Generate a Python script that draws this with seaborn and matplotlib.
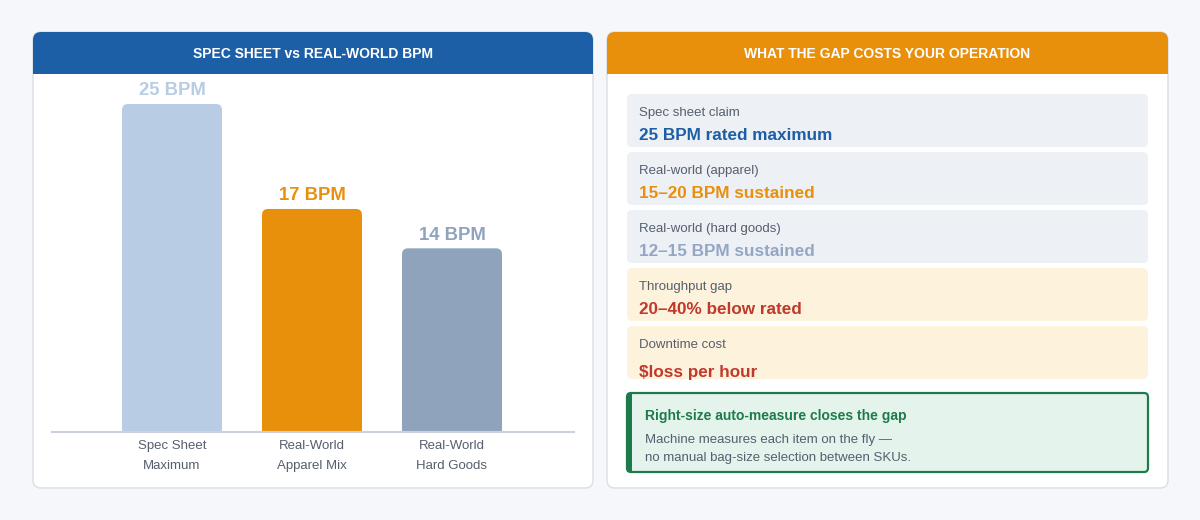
import matplotlib.pyplot as plt
import seaborn as sns
import pandas as pd
from matplotlib.patches import FancyBboxPatch, Rectangle

# Chart data
categories = ['Spec Sheet\nMaximum', 'Real-World\nApparel Mix', 'Real-World\nHard Goods']
bpm = [25, 17, 14]
bar_colors = ['#b8cce4', '#e8900c', '#8fa3bd']

# Right panel cards
card_labels = ['Spec sheet claim', 'Real-world (apparel)', 'Real-world (hard goods)',
               'Throughput gap', 'Downtime cost']
card_values = ['25 BPM rated maximum', '15–20 BPM sustained', '12–15 BPM sustained',
               '20–40% below rated', '$loss per hour']
card_value_colors = ['#1d5fa6', '#e8900c', '#93a7c4', '#c0392b', '#c0392b']
card_bg = ['#edf0f5', '#edf0f5', '#edf0f5', '#fdf2dc', '#fdf2dc']

left_title = 'SPEC SHEET vs REAL-WORLD BPM'
right_title = 'WHAT THE GAP COSTS YOUR OPERATION'
note_title = 'Right-size auto-measure closes the gap'
note_body = ['Machine measures each item on the fly —',
             'no manual bag-size selection between SKUs.']

sns.set_theme(style='white')
plt.rcParams['font.family'] = ['Liberation Sans', 'DejaVu Sans']

W, H = 1200, 520
fig = plt.figure(figsize=(12, 5.2), dpi=100)
fig.patch.set_facecolor('#f5f7fa')

# Background canvas in pixel coordinates
bg = fig.add_axes([0, 0, 1, 1])
bg.set_xlim(0, W)
bg.set_ylim(H, 0)
bg.axis('off')
bg.set_facecolor('none')


def panel(x0, x1, y0, y1, head_color, title):
    bg.add_patch(FancyBboxPatch((x0, y0), x1 - x0, y1 - y0,
                                boxstyle='round,pad=0,rounding_size=8',
                                fc='white', ec='#d9dee7', lw=1))
    bg.add_patch(FancyBboxPatch((x0, y0), x1 - x0, 42,
                                boxstyle='round,pad=0,rounding_size=8',
                                fc=head_color, ec='none'))
    bg.add_patch(Rectangle((x0, y0 + 20), x1 - x0, 22, fc=head_color, ec='none'))
    bg.text((x0 + x1) / 2, y0 + 22, title, color='white', fontsize=10,
            fontweight='bold', ha='center', va='center')


panel(33, 593, 32, 488, '#1d5fa6', left_title)
panel(607, 1168, 32, 488, '#e8900c', right_title)

# Cards on the right
card_top = [94, 152, 210, 268, 326]
for i, (lab, val) in enumerate(zip(card_labels, card_values)):
    y = card_top[i]
    bg.add_patch(FancyBboxPatch((627, y), 521, 53,
                                boxstyle='round,pad=0,rounding_size=5',
                                fc=card_bg[i], ec='none'))
    bg.text(639, y + 19, lab, color='#555f6e', fontsize=9.5, va='center')
    off = 46 if i == 4 else 42
    bg.text(639, y + off, val, color=card_value_colors[i], fontsize=12.3,
            fontweight='bold', va='center')

# Green note box
bg.add_patch(FancyBboxPatch((627, 393), 521, 79,
                            boxstyle='round,pad=0,rounding_size=4',
                            fc='#e4f4ec', ec='#1e7a4a', lw=1.6))
bg.add_patch(Rectangle((627, 393), 5, 79, fc='#1e7a4a', ec='none'))
bg.text(645, 416, note_title, color='#1e7a4a', fontsize=10, fontweight='bold', va='center')
for j, line in enumerate(note_body):
    bg.text(645, 440 + j * 18, line, color='#555f6e', fontsize=9.5, va='center')

# Bar chart axes
ax_l, ax_r, ax_b, ax_t = 52, 574, 432, 80
ax = fig.add_axes([ax_l / W, (H - ax_b) / H, (ax_r - ax_l) / W, (ax_b - ax_t) / H])
ax.set_facecolor('none')

df = pd.DataFrame({'category': categories, 'bpm': bpm})
sns.barplot(data=df, x='category', y='bpm', hue='category', palette=bar_colors,
            width=0.714, legend=False, ax=ax, saturation=1)

px_per_x = 140.0
ymax = (ax_b - ax_t) / 13.12
ax.set_xlim(-120 / px_per_x, -120 / px_per_x + (ax_r - ax_l) / px_per_x)
ax.set_ylim(0, ymax)

# Rounded tops on the bars
aspect = (ymax / (ax_b - ax_t)) / (1 / px_per_x)
r = 6 / px_per_x
for p, c in zip(list(ax.patches), bar_colors):
    x, w, h = p.get_x(), p.get_width(), p.get_height()
    p.remove()
    ax.add_patch(FancyBboxPatch((x, -2), w, h + 2,
                                boxstyle=f'round,pad=0,rounding_size={r}',
                                mutation_aspect=aspect, fc=c, ec='none', clip_on=True))

for i, v in enumerate(bpm):
    ax.text(i, v + 13 / 13.12, f'{v} BPM', color=bar_colors[i], fontsize=13.3,
            fontweight='bold', ha='center', va='center')

for s in ['top', 'right', 'left']:
    ax.spines[s].set_visible(False)
ax.spines['bottom'].set_color('#cbd2dd')
ax.spines['bottom'].set_linewidth(1.5)
ax.set_yticks([])
ax.set_xlabel('')
ax.set_ylabel('')
ax.tick_params(axis='x', length=0, pad=6, labelsize=9.5, labelcolor='#555f6e')
for t in ax.get_xticklabels():
    t.set_linespacing(1.85)

fig.savefig('out.png', dpi=100, facecolor=fig.get_facecolor())
